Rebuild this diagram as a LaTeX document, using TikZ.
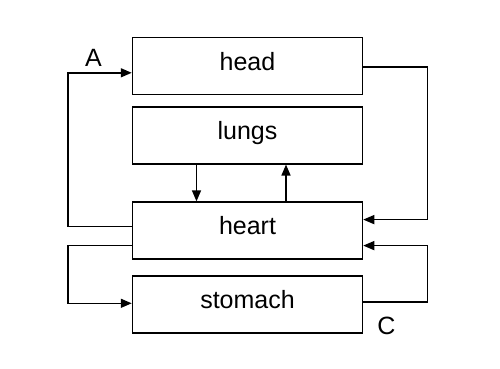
\documentclass[tikz,border=0pt]{standalone}
\usepackage{fontspec}
\setmainfont{Liberation Sans}
\usetikzlibrary{arrows.meta,positioning}

\begin{document}
\begin{tikzpicture}[x=1pt, y=1pt, >={Triangle[length=11pt,width=9pt]}, line width=1.5pt,
    organ/.style={draw, minimum width=230pt, minimum height=57pt, inner sep=0pt,
        text height=18pt, text depth=9.6pt},
    every node/.style={font=\fontsize{25}{30}\selectfont}]
    \useasboundingbox (0,0) rectangle (500,368);
    % Organs
    \node[organ] at (247.5,302.2) (head) {head};
    \node[organ, below=11pt of head] (lungs) {lungs};
    \node[organ, below=36.8pt of lungs] (heart) {heart};
    \node[organ, below=15.2pt of heart] (stomach) {stomach};
    % Labels
    \node at (93.5,310.5) (a) {A};
    \node at (386.5,42.5) (c) {C};
    % Heart <-> lungs
    \draw[->] ([xshift=-51pt]lungs.south) -- ([xshift=-51pt]heart.north);
    \draw[->] ([xshift=38.5pt]heart.north) -- ([xshift=38.5pt]lungs.south);
    % Circulation loops
    \draw[->] ([yshift=4pt]heart.west) -- ++(-64pt,0) |- ([yshift=-7pt]head.west);
    \draw[->] ([yshift=-1pt]head.east) -- ++(64pt,0) |- ([yshift=11pt]heart.east);
    \draw[->] ([yshift=-15pt]heart.west) -- ++(-64pt,0) |- ([yshift=1pt]stomach.west);
    \draw[->] ([yshift=2.5pt]stomach.east) -- ++(64pt,0) |- ([yshift=-15pt]heart.east);
\end{tikzpicture}
\end{document}
